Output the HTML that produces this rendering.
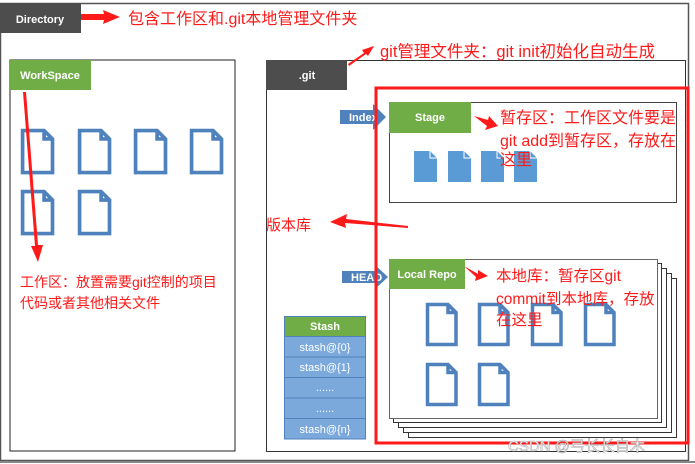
<!DOCTYPE html>
<html><head><meta charset="utf-8"><style>
html,body{margin:0;padding:0;background:#fff;width:695px;height:464px;overflow:hidden}
svg{display:block}
.r{font-family:"Liberation Sans","Noto Sans CJK SC",sans-serif;fill:#ff1a1a;font-size:15px}
.w{font-family:"Liberation Sans",sans-serif;fill:#fff;font-weight:bold;font-size:11px}
</style></head><body>
<svg width="695" height="464" viewBox="0 0 695 464">
<defs>
<g id="fo"><path d="M1.5,1.5 H22 L30,9.5 V41.5 H1.5 Z M22,1.5 V9.5 H30" fill="#fff" stroke="#4f81bd" stroke-width="3.5" stroke-linejoin="miter"/></g>
<g id="fw"><path d="M1.5,1.5 H22 L30,9.5 V41.5 H1.5 Z M22,1.5 V9.5 H30" fill="#fff" stroke="#4f81bd" stroke-width="3.5"/></g>
<g id="ff"><path d="M0,0 H16 L23,7 V31 H0 Z" fill="#5b9bd5"/><path d="M16,0 V7 H23" fill="none" stroke="#fff" stroke-width="1"/></g>
</defs>
<rect x="0.5" y="3.5" width="688" height="457" fill="none" stroke="#555" stroke-width="1.5"/>
<line x1="0" y1="462" x2="695" y2="462" stroke="#888" stroke-width="2"/>
<rect x="0" y="3" width="81" height="30" fill="#4d4d4d"/>
<text x="40" y="23" class="w" text-anchor="middle">Directory</text>
<rect x="10" y="60" width="225" height="391" fill="#fff" stroke="#222" stroke-width="1"/>
<rect x="10" y="60" width="81" height="30" fill="#70ad47"/>
<text x="50" y="79" class="w" text-anchor="middle">WorkSpace</text>
<g transform="translate(21,129) scale(1.05,1.05)"><use href="#fw"/></g>
<g transform="translate(78,129) scale(1.05,1.05)"><use href="#fw"/></g>
<g transform="translate(134,129) scale(1.05,1.05)"><use href="#fw"/></g>
<g transform="translate(190,129) scale(1.05,1.05)"><use href="#fw"/></g>
<g transform="translate(21,190) scale(1.05,1.05)"><use href="#fw"/></g>
<g transform="translate(78,190) scale(1.05,1.05)"><use href="#fw"/></g>
<rect x="266.5" y="60.5" width="419" height="391" fill="#fff" stroke="#333" stroke-width="1"/>
<rect x="266" y="60" width="81" height="30" fill="#4d4d4d"/>
<text x="307" y="79" class="w" text-anchor="middle">.git</text>
<rect x="389.5" y="102.5" width="287" height="100" fill="#fff" stroke="#444" stroke-width="1"/>
<rect x="389" y="102" width="82" height="31" fill="#70ad47"/>
<text x="430" y="121" class="w" text-anchor="middle">Stage</text>
<path d="M340,110 H373 V104 L386,117 L373,130 V124 H340 Z" fill="#4f81bd"/>
<text x="349" y="121" class="w" font-size="10">Index</text>
<g transform="translate(414,151)"><use href="#ff"/></g>
<g transform="translate(448,151)"><use href="#ff"/></g>
<g transform="translate(481,151)"><use href="#ff"/></g>
<g transform="translate(514,151)"><use href="#ff"/></g>
<rect x="408.5" y="278.5" width="268" height="159" fill="#fff" stroke="#333"/>
<rect x="403.5" y="273.5" width="268" height="159" fill="#fff" stroke="#333"/>
<rect x="398.5" y="268.5" width="268" height="159" fill="#fff" stroke="#333"/>
<rect x="393.5" y="263.5" width="268" height="159" fill="#fff" stroke="#333"/>
<rect x="389.5" y="259.5" width="268" height="159" fill="#fff" stroke="#666"/>
<rect x="389" y="259" width="76" height="30" fill="#70ad47"/>
<text x="427" y="278" class="w" text-anchor="middle">Local Repo</text>
<path d="M342,271 H375 V265 L388,277 L375,289 V283 H342 Z" fill="#4f81bd"/>
<text x="351" y="281" class="w" font-size="10">HEAD</text>
<g transform="translate(426,303)"><use href="#fo"/></g>
<g transform="translate(478,303)"><use href="#fo"/></g>
<g transform="translate(531,303)"><use href="#fo"/></g>
<g transform="translate(584,303)"><use href="#fo"/></g>
<g transform="translate(426,363)"><use href="#fo"/></g>
<g transform="translate(478,363)"><use href="#fo"/></g>
<g stroke="#4f81bd" stroke-width="1">
<rect x="284.5" y="316.5" width="81" height="20" fill="#70ad47"/>
<rect x="284.5" y="336.5" width="81" height="20.5" fill="#7ca9dc"/>
<rect x="284.5" y="357" width="81" height="20.5" fill="#7ca9dc"/>
<rect x="284.5" y="377.5" width="81" height="20.5" fill="#7ca9dc"/>
<rect x="284.5" y="398" width="81" height="20.5" fill="#7ca9dc"/>
<rect x="284.5" y="418.5" width="81" height="20.5" fill="#7ca9dc"/>
</g>
<g class="w" text-anchor="middle" font-size="11">
<text x="325" y="330">Stash</text>
<text x="325" y="351" font-weight="normal">stash@{0}</text>
<text x="325" y="371" font-weight="normal">stash@{1}</text>
<text x="325" y="391" font-weight="normal">......</text>
<text x="325" y="412" font-weight="normal">......</text>
<text x="325" y="433" font-weight="normal">stash@{n}</text>
</g>
<rect x="376" y="88" width="312" height="355" fill="none" stroke="#ff1a1a" stroke-width="3"/>
<g fill="#ff1a1a">
<path d="M81,14 L104,14 L103,10 L120,17 L103,24 L104,20 L81,20 Z"/>
<path d="M23,92 L26,92 L38,245 L43,245 L38,262 L31,246 L35,246 Z"/>
<path d="M348,64 L364,53 L362,50 L374,46 L368,56 L366,54 L349,66 Z"/>
<path d="M474,116 L488,120 L489,116 L498,126 L485,130 L487,126 Z"/>
<path d="M408,228 L345,223 L346,228 L330,222 L347,214 L346,219 L408,226 Z"/>
<path d="M464,266 L478,274 L478,270 L488,276 L475,281 L476,277 Z"/>
</g>
<g class="r">
<text x="128" y="24" font-size="16">包含工作区和.git本地管理文件夹</text>
<text x="380" y="57" font-size="16.5">git管理文件夹：git init初始化自动生成</text>
<text x="266" y="230">版本库</text>
<text x="500" y="123" font-size="16">暂存区：工作区文件要是</text>
<text x="500" y="146" font-size="16">git add到暂存区，存放在</text>
<text x="500" y="165" font-size="16">这里</text>
<text x="496" y="281" font-size="15.5">本地库：暂存区git</text>
<text x="496" y="304" font-size="15.5">commit到本地库，存放</text>
<text x="496" y="325" font-size="15.5">在这里</text>
<text x="20" y="287" font-size="14">工作区：放置需要git控制的项目</text>
<text x="20" y="308" font-size="14">代码或者其他相关文件</text>
</g>
<text x="508" y="451" font-family="Liberation Sans,Noto Sans CJK SC,sans-serif" font-size="15" fill="#fff" stroke="#aaa" stroke-width="0.6">CSDN @弓长长自木</text>
</svg>
</body></html>
